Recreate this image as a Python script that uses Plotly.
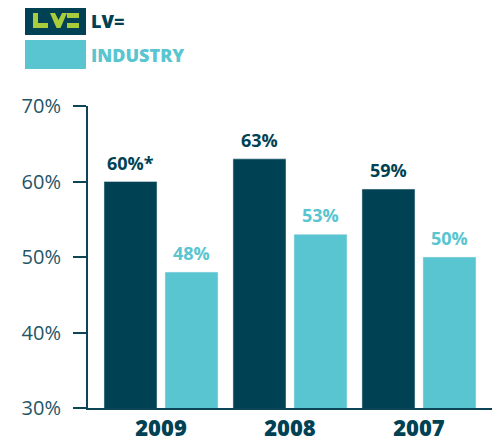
import plotly.graph_objects as go

years = ["2009", "2008", "2007"]
lv_values = [60, 63, 59]
industry_values = [48, 53, 50]
lv_labels = ["60%*", "63%", "59%"]
industry_labels = ["48%", "53%", "50%"]
y_ticks = [30, 40, 50, 60, 70]
y_ticktext = ["30%", "40%", "50%", "60%", "70%"]

DARK = "#004254"
LIGHT = "#58c5d0"
LIME = "#a8cc3a"
AXIS = "#0d4456"
TICKC = "#245566"

# page body has an 8px margin; work in reference-image pixels and shift
O = 8
W, H = 500 - O, 440 - O
ML, MR, MT, MB = 88 - O, 3, 106 - O, 32
PW = W - ML - MR
PH = H - MT - MB

def px(x):
    return (x - O - ML) / PW

def py(y):
    return (H - MB - (y - O)) / PH

xs = list(range(len(years)))

fig = go.Figure()
fig.add_trace(go.Bar(x=xs, y=lv_values, marker_color=DARK, name="LV=", showlegend=False))
fig.add_trace(go.Bar(x=xs, y=industry_values, marker_color=LIGHT, name="INDUSTRY",
                     showlegend=False))

annotations = []
off = 0.236
for i, (v, t) in enumerate(zip(lv_values, lv_labels)):
    annotations.append(dict(x=i - off, y=v, text=t, showarrow=False, yanchor="bottom",
                            yshift=5, font=dict(family="Open Sans", size=18, color=DARK, weight="bold")))
for i, (v, t) in enumerate(zip(industry_values, industry_labels)):
    annotations.append(dict(x=i + off, y=v, text=t, showarrow=False, yanchor="bottom",
                            yshift=5, font=dict(family="Open Sans", size=18, color=LIGHT, weight="bold")))

# legend text
annotations.append(dict(xref="paper", yref="paper", x=px(89), y=py(21), text="LV=",
                        showarrow=False, xanchor="left", yanchor="middle",
                        font=dict(family="Open Sans", size=18, color=DARK, weight=800)))
annotations.append(dict(xref="paper", yref="paper", x=px(89), y=py(55), text="INDUSTRY",
                        showarrow=False, xanchor="left", yanchor="middle",
                        font=dict(family="Open Sans", size=18, color=LIGHT, weight=800)))

shapes = []
def rect(x0, y0, x1, y1, color):
    shapes.append(dict(type="rect", xref="paper", yref="paper", x0=px(x0), x1=px(x1),
                       y0=py(y1), y1=py(y0), fillcolor=color, line=dict(width=0), layer="above"))

rect(25, 6, 86, 35, DARK)
rect(25, 40, 86, 69, LIGHT)
# LV= logo
rect(33, 13, 38, 28, LIME)
rect(33, 23, 48, 28, LIME)
shapes.append(dict(type="path", xref="paper", yref="paper", layer="above",
                   path=f"M {px(50)},{py(13)} L {px(55)},{py(13)} L {px(58.5)},{py(20)} L {px(62)},{py(13)} "
                        f"L {px(67)},{py(13)} L {px(60.5)},{py(28)} L {px(56.5)},{py(28)} Z",
                   fillcolor=LIME, line=dict(width=0)))
rect(67, 13, 79, 18, LIME)
rect(67, 23, 79, 28, LIME)

fig.update_layout(
    width=W, height=H,
    margin=dict(l=ML, r=MR, t=MT, b=MB),
    paper_bgcolor="white", plot_bgcolor="white",
    barmode="group", bargap=0.054, bargroupgap=0.131,
    annotations=annotations, shapes=shapes,
    xaxis=dict(range=[-0.566, 2.605], tickmode="array", tickvals=xs, ticktext=years,
               showline=True, linecolor=AXIS, linewidth=2, ticks="", showgrid=False,
               zeroline=False, automargin=False,
               tickfont=dict(family="Open Sans", size=22, color=DARK, weight=800),
               ticklabelstandoff=0, fixedrange=True),
    yaxis=dict(range=[30, 70], tickmode="array", tickvals=y_ticks, ticktext=y_ticktext,
               showline=True, linecolor=AXIS, linewidth=2, ticks="outside", ticklen=13,
               tickwidth=2, tickcolor=AXIS, showgrid=False, zeroline=False, automargin=False,
               tickfont=dict(family="Open Sans", size=20, color=TICKC),
               ticklabelstandoff=8, fixedrange=True),
)

fig.write_html("out.html")
